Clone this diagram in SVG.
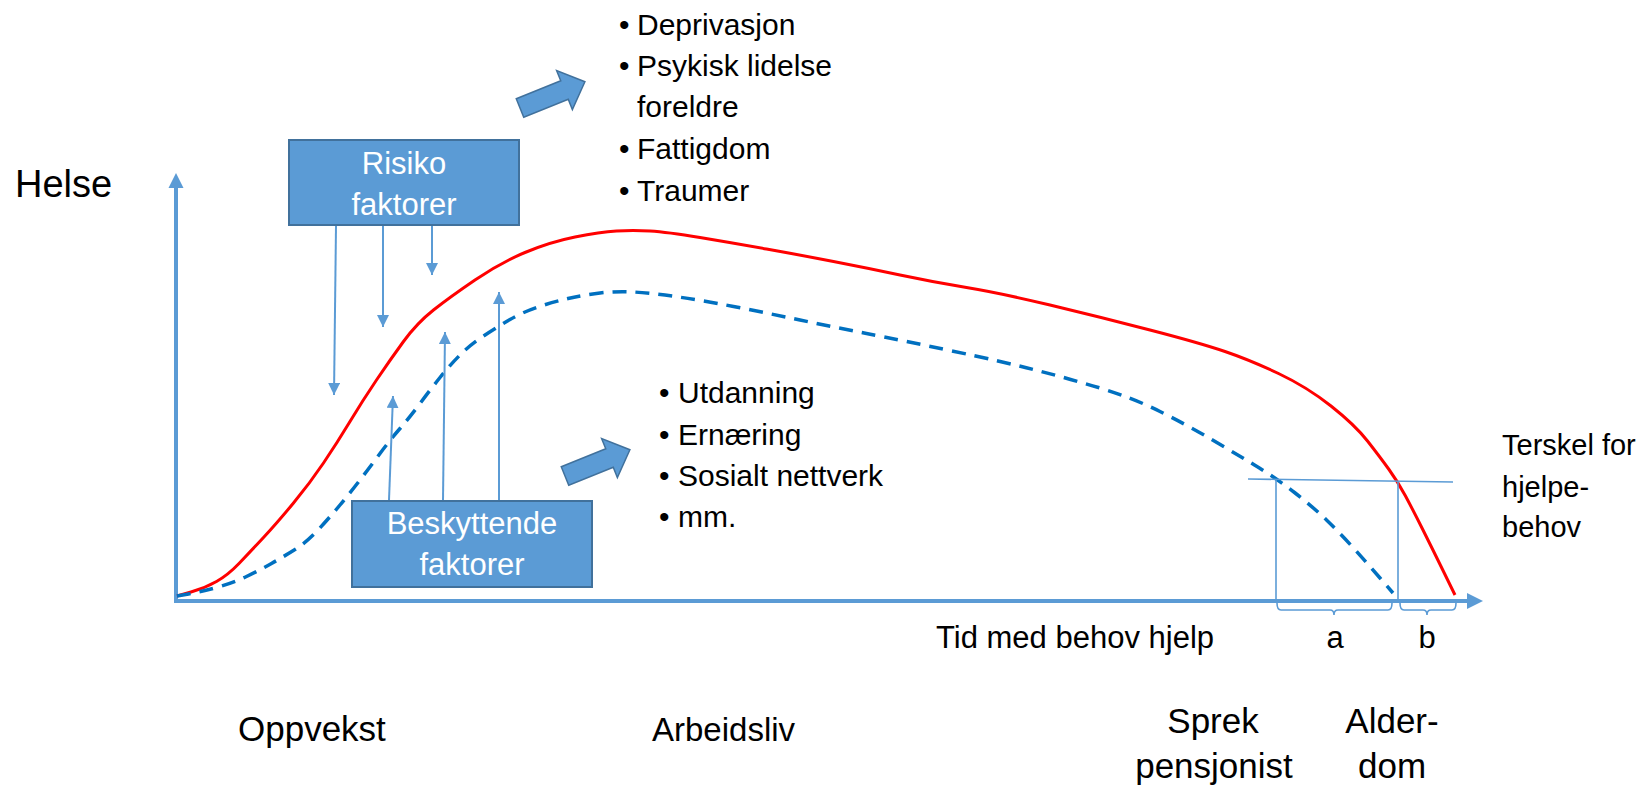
<svg xmlns="http://www.w3.org/2000/svg" width="1646" height="786" viewBox="0 0 1646 786">
<defs>
<style>
.t{font-family:"Liberation Sans",Arial,sans-serif;fill:#000}
.w{font-family:"Liberation Sans",Arial,sans-serif;fill:#fff;text-anchor:middle}
.box{fill:#5B9BD5;stroke:#41719C;stroke-width:2}
.blk{fill:#5B9BD5;stroke:#41719C;stroke-width:1.5}
.ax{stroke:#5B9BD5;stroke-width:4;fill:none}
.thin{stroke:#5B9BD5;stroke-width:1.6;fill:none}
.arr{stroke:#5B9BD5;stroke-width:2;fill:none;marker-end:url(#ah)}
</style>
<marker id="ah" markerUnits="userSpaceOnUse" markerWidth="13" markerHeight="13" refX="12" refY="6" orient="auto">
<path d="M0,0 L12,6 L0,12 z" fill="#5B9BD5"/>
</marker>
</defs>
<rect width="1646" height="786" fill="#fff"/>

<g id="axes">
<line class="ax" x1="176" y1="601" x2="176" y2="186"/>
<polygon points="176,173 168.5,188 183.5,188" fill="#5B9BD5"/>
<line class="ax" x1="174" y1="601" x2="1468" y2="601"/>
<polygon points="1483,601 1467,593 1467,609" fill="#5B9BD5"/>
</g>

<g id="curves">
<path d="M177,596 L191,592 Q205,588 216.5,581.5 Q228,575 239,563.5 Q250,552 263.5,537.5 Q277,523 293.5,503 Q310,483 323.5,463 Q337,443 350,421.5 Q363,400 376.5,380 Q390,360 403.5,341.5 Q417,323 433.5,310 Q450,297 475,280 Q500,263 525,252.5 Q550,242 575,237 Q600,232 616.5,231 Q633,230 650,231 Q667,232 700,237.5 Q733,243 766.5,249 Q800,255 833.5,261.5 Q867,268 900,275 Q933,282 966.5,287.5 Q1000,293 1050,305 Q1100,317 1150,330 Q1200,343 1225,351.5 Q1250,360 1278.5,373.5 Q1307,387 1331,406 Q1355,425 1367.5,441 Q1380,457 1389,469.5 Q1398,482 1405.5,496 Q1413,510 1423,530 Q1433,550 1444,572.5 L1455,595" fill="none" stroke="#FF0000" stroke-width="3"/>
<path d="M177,596 L188.5,594 Q200,592 216.5,587.5 Q233,583 246.5,576.5 Q260,570 271.5,563.5 Q283,557 295,549.5 Q307,542 318.5,529.5 Q330,517 340,505 Q350,493 360,480 Q370,467 380,453.5 Q390,440 400,428.5 Q410,417 420,403.5 Q430,390 440,377.5 Q450,365 460,355 Q470,345 483.5,336 Q497,327 510,319.5 Q523,312 538,307 Q553,302 568,298.5 Q583,295 600,293 Q617,291 633.5,292 Q650,293 675,296.5 Q700,300 733.5,306.5 Q767,313 800,320 Q833,327 866.5,333.5 Q900,340 950,350.5 Q1000,361 1033.5,369.5 Q1067,378 1100,388 Q1133,398 1160,411.5 Q1187,425 1210,438.5 Q1233,452 1254.5,465 Q1276,478 1294.5,492.5 Q1313,507 1326.5,520 Q1340,533 1353.5,548 Q1367,563 1380,578 L1393,593" fill="none" stroke="#0070C0" stroke-width="3.5" stroke-dasharray="14 9"/>
</g>

<g id="connectors">
<line class="arr" x1="336" y1="226" x2="334" y2="395"/>
<line class="arr" x1="383" y1="226" x2="383" y2="327"/>
<line class="arr" x1="432" y1="226" x2="432" y2="275"/>
<line class="arr" x1="389" y1="500" x2="393" y2="396"/>
<line class="arr" x1="443" y1="500" x2="445" y2="332"/>
<line class="arr" x1="499" y1="500" x2="499" y2="292"/>
</g>

<g id="threshold">
<line class="thin" x1="1248" y1="479" x2="1453" y2="482"/>
<line class="thin" x1="1276" y1="479" x2="1276" y2="601"/>
<line class="thin" x1="1398" y1="481" x2="1398" y2="601"/>
<path class="thin" d="M1277,603 Q1277,610 1281,610 H1330 Q1334,610 1334,615 Q1334,610 1338,610 H1388 Q1392,610 1392,603"/>
<path class="thin" d="M1400,603 Q1400,610 1404,610 H1423 Q1427,610 1427,615 Q1427,610 1431,610 H1452 Q1456,610 1456,603"/>
</g>

<g id="risiko">
<rect class="box" x="289" y="140" width="230" height="85"/>
<text class="w" x="404" y="174" font-size="31">Risiko</text>
<text class="w" x="404" y="215" font-size="31">faktorer</text>
</g>

<g id="beskyttende">
<rect class="box" x="352" y="501" width="240" height="86"/>
<text class="w" x="472" y="534" font-size="31">Beskyttende</text>
<text class="w" x="472" y="575" font-size="31">faktorer</text>
</g>

<g id="arrow-risk">
<polygon class="blk" transform="translate(520,108) rotate(-22)" points="0,-10 48,-10 48,-21 70,0 48,21 48,10 0,10"/>
</g>
<g id="arrow-protect">
<polygon class="blk" transform="translate(565,476) rotate(-22)" points="0,-10 48,-10 48,-21 70,0 48,21 48,10 0,10"/>
</g>

<g id="risk-list" class="t" font-size="30">
<text class="t" x="619" y="35" font-size="30">•</text><text class="t" x="637" y="35" font-size="30">Deprivasjon</text>
<text class="t" x="619" y="76" font-size="30">•</text><text class="t" x="637" y="76" font-size="30">Psykisk lidelse</text>
<text class="t" x="637" y="117" font-size="30">foreldre</text>
<text class="t" x="619" y="159" font-size="30">•</text><text class="t" x="637" y="159" font-size="30">Fattigdom</text>
<text class="t" x="619" y="201" font-size="30">•</text><text class="t" x="637" y="201" font-size="30">Traumer</text>
</g>

<g id="protect-list">
<text class="t" x="659" y="403" font-size="30">•</text><text class="t" x="678" y="403" font-size="30">Utdanning</text>
<text class="t" x="659" y="445" font-size="30">•</text><text class="t" x="678" y="445" font-size="30">Ernæring</text>
<text class="t" x="659" y="486" font-size="30">•</text><text class="t" x="678" y="486" font-size="30">Sosialt nettverk</text>
<text class="t" x="659" y="527" font-size="30">•</text><text class="t" x="678" y="527" font-size="30">mm.</text>
</g>

<g id="labels">
<text class="t" x="15" y="197" font-size="38">Helse</text>
<text class="t" x="1502" y="455" font-size="29">Terskel for</text>
<text class="t" x="1502" y="497" font-size="29">hjelpe-</text>
<text class="t" x="1502" y="537" font-size="29">behov</text>
<text class="t" x="936" y="648" font-size="31">Tid med behov hjelp</text>
<text class="t" x="1335" y="648" font-size="31" text-anchor="middle">a</text>
<text class="t" x="1427" y="648" font-size="31" text-anchor="middle">b</text>
<text class="t" x="238" y="741" font-size="35">Oppvekst</text>
<text class="t" x="652" y="741" font-size="33">Arbeidsliv</text>
<text class="t" x="1213" y="733" font-size="35" text-anchor="middle">Sprek</text>
<text class="t" x="1214" y="778" font-size="35" text-anchor="middle">pensjonist</text>
<text class="t" x="1392" y="733" font-size="35" text-anchor="middle">Alder-</text>
<text class="t" x="1392" y="778" font-size="35" text-anchor="middle">dom</text>
</g>
</svg>
